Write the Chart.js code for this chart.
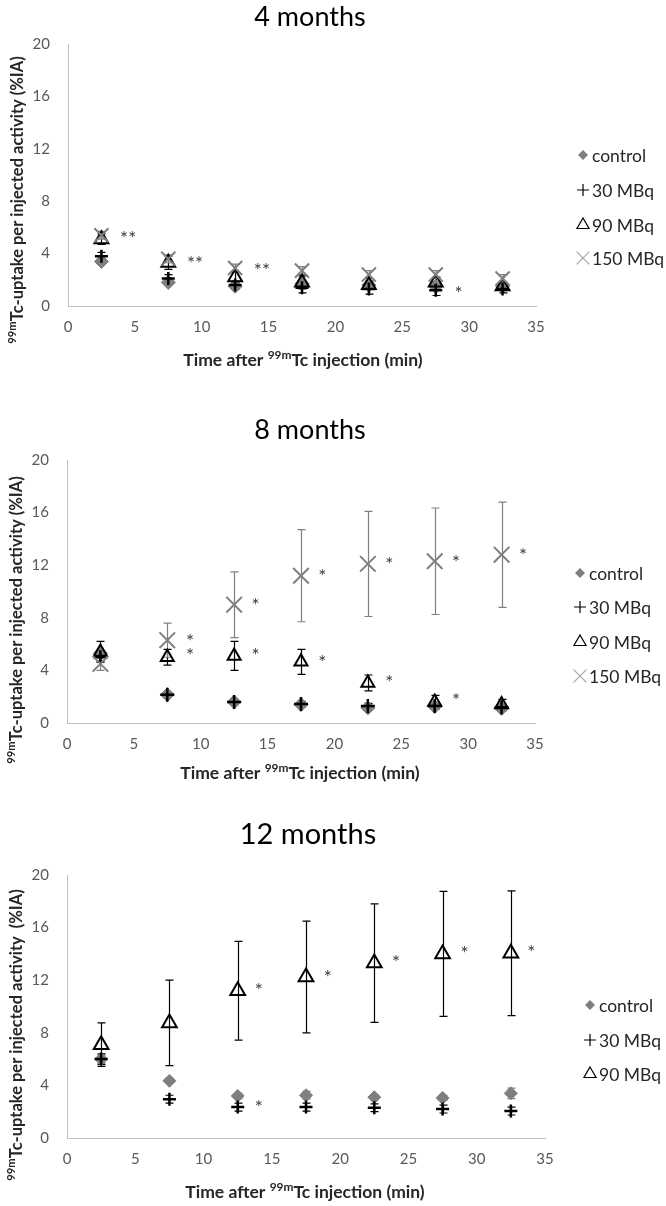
<!DOCTYPE html>
<html>
<head>
<meta charset="utf-8">
<script src="https://cdn.jsdelivr.net/npm/chart.js@4.4.1/dist/chart.umd.min.js"></script>
<style>
  body { margin: 0; background: #fff; }
  canvas { display: block; }
</style>
</head>
<body>
<canvas id="c4" width="666" height="400"></canvas>
<canvas id="c8" width="666" height="400"></canvas>
<canvas id="c12" width="666" height="406"></canvas>
<script>
// time points (min)
let times = [2.5, 7.5, 12.5, 17.5, 22.5, 27.5, 32.5]
let seriesNames = ['control', '30 MBq', '90 MBq', '150 MBq']

// 4 months
let m4_control = [3.4, 1.8, 1.5, 1.7, 1.6, 1.5, 1.5]
let m4_control_sd = [0.2, 0.2, 0.2, 0.2, 0.2, 0.2, 0.2]
let m4_30 = [3.8, 2.1, 1.6, 1.4, 1.3, 1.2, 1.3]
let m4_30_sd = [0.3, 0.3, 0.3, 0.4, 0.4, 0.4, 0.3]
let m4_90 = [5.1, 3.3, 2.2, 1.8, 1.6, 1.8, 1.5]
let m4_90_sd = [0.4, 0.5, 0.4, 0.5, 0.3, 0.4, 0.3]
let m4_150 = [5.4, 3.6, 2.9, 2.7, 2.4, 2.4, 2.1]
let m4_150_sd = [0.3, 0.3, 0.3, 0.3, 0.3, 0.3, 0.3]
let m4_star_x = [4.5, 9.5, 14.5, 29.2]
let m4_star_y = [5.4, 3.5, 3.0, 1.2]
let m4_star_t = ['**', '**', '**', '*']

// 8 months
let m8_control = [5.3, 2.15, 1.6, 1.4, 1.15, 1.25, 1.1]
let m8_control_sd = [0.2, 0.2, 0.2, 0.2, 0.2, 0.2, 0.2]
let m8_30 = [5.0, 2.15, 1.6, 1.45, 1.3, 1.3, 1.2]
let m8_30_sd = [0.3, 0.2, 0.2, 0.2, 0.2, 0.2, 0.2]
let m8_90 = [5.4, 5.0, 5.1, 4.65, 3.05, 1.6, 1.4]
let m8_90_sd = [0.8, 0.6, 1.1, 0.95, 0.6, 0.5, 0.4]
let m8_150 = [4.5, 6.3, 9.0, 11.2, 12.1, 12.3, 12.8]
let m8_150_sd = [0.5, 1.3, 2.5, 3.5, 4.0, 4.05, 4.0]
let m8_star_x = [9.2, 9.2, 14.1, 14.1, 19.1, 19.1, 24.1, 24.1, 29.1, 29.1, 34.1]
let m8_star_y = [6.5, 5.4, 9.2, 5.4, 11.4, 4.9, 12.3, 3.35, 12.5, 2.0, 13.0]

// 12 months
let m12_control = [6.0, 4.35, 3.2, 3.25, 3.1, 3.05, 3.4]
let m12_control_sd = [0.3, 0.2, 0.2, 0.3, 0.2, 0.2, 0.4]
let m12_30 = [6.0, 2.95, 2.35, 2.35, 2.3, 2.2, 2.05]
let m12_30_sd = [0.4, 0.3, 0.3, 0.3, 0.3, 0.3, 0.3]
let m12_90 = [7.1, 8.75, 11.2, 12.25, 13.3, 14.0, 14.05]
let m12_90_sd = [1.65, 3.25, 3.75, 4.25, 4.5, 4.75, 4.75]
let m12_star_x = [14.05, 14.05, 19.1, 24.1, 29.1, 34.0]
let m12_star_y = [11.5, 2.6, 12.5, 13.6, 14.3, 14.4]

const FONT = 'Lato, "Open Sans", sans-serif'
const GRAY = '#7f7f7f'

function pts(vals) {
  return vals.map((v, i) => ({ x: times[i], y: v }))
}

function drawRich(ctx, parts, cx, cy, size, rot) {
  ctx.save()
  ctx.translate(cx, cy)
  if (rot) ctx.rotate(rot)
  let w = 0
  parts.forEach(p => {
    ctx.font = 'bold ' + (p.sup ? size * 0.68 : size) + 'px ' + FONT
    p.w = ctx.measureText(p.t).width
    w += p.w
  })
  let x = -w / 2
  ctx.textBaseline = 'alphabetic'
  ctx.fillStyle = '#262626'
  parts.forEach(p => {
    ctx.font = 'bold ' + (p.sup ? size * 0.68 : size) + 'px ' + FONT
    ctx.fillText(p.t, x, p.sup ? size * 0.35 - size * 0.42 : size * 0.35)
    x += p.w
  })
  ctx.restore()
}

function marker(ctx, style, r, x, y) {
  ctx.beginPath()
  if (style == 'rectRot') {
    ctx.moveTo(x - r, y); ctx.lineTo(x, y - r); ctx.lineTo(x + r, y); ctx.lineTo(x, y + r); ctx.closePath()
    ctx.fill()
  } else if (style == 'cross') {
    ctx.moveTo(x - r, y); ctx.lineTo(x + r, y); ctx.moveTo(x, y - r); ctx.lineTo(x, y + r)
    ctx.stroke()
  } else if (style == 'triangle') {
    ctx.moveTo(x, y - r); ctx.lineTo(x + 0.866 * r, y + 0.5 * r); ctx.lineTo(x - 0.866 * r, y + 0.5 * r); ctx.closePath()
    ctx.stroke()
  } else {
    let o = 0.7071 * r
    ctx.moveTo(x - o, y - o); ctx.lineTo(x + o, y + o); ctx.moveTo(x + o, y - o); ctx.lineTo(x - o, y + o)
    ctx.stroke()
  }
}

// error bars, drawn from the dataset values through the scales
let errorBars = {
  id: 'errorBars',
  beforeDatasetsDraw(chart) {
    let ctx = chart.ctx, xs = chart.scales.x, ys = chart.scales.y
    chart.data.datasets.forEach(ds => {
      if (!ds.errors) return
      ctx.save()
      ctx.strokeStyle = ds.errColor
      ctx.lineWidth = 1.2
      ds.data.forEach((p, i) => {
        let e = ds.errors[i]
        if (!e) return
        let x = Math.round(xs.getPixelForValue(p.x)) + 0.5
        let y1 = ys.getPixelForValue(p.y + e), y2 = ys.getPixelForValue(p.y - e)
        ctx.beginPath()
        ctx.moveTo(x, y1); ctx.lineTo(x, y2)
        ctx.moveTo(x - 4, y1); ctx.lineTo(x + 4, y1)
        ctx.moveTo(x - 4, y2); ctx.lineTo(x + 4, y2)
        ctx.stroke()
      })
      ctx.restore()
    })
  }
}

// titles, axis titles, legend and significance stars
let decor = {
  id: 'decor',
  afterDraw(chart, args, o) {
    let ctx = chart.ctx, xs = chart.scales.x, ys = chart.scales.y
    ctx.save()
    ctx.fillStyle = '#000'
    ctx.font = o.titleSize + 'px ' + FONT
    ctx.textAlign = 'center'
    ctx.textBaseline = 'middle'
    ctx.fillText(o.title, o.titleX, o.titleY)
    ctx.restore()

    drawRich(ctx, [{ t: '99m', sup: true }, { t: o.yTitle }], o.yTitleX, o.yTitleY, 16.5, -Math.PI / 2)
    drawRich(ctx, [{ t: 'Time after ' }, { t: '99m', sup: true }, { t: 'Tc injection (min)' }], o.xTitleX, o.xTitleY, 17.5, 0)

    // stars
    ctx.save()
    ctx.fillStyle = '#404040'
    ctx.font = '19px ' + FONT
    ctx.textAlign = 'center'
    ctx.textBaseline = 'alphabetic'
    o.starX.forEach((sx, i) => {
      let t = o.starT ? o.starT[i] : '*'
      ctx.fillText(t, xs.getPixelForValue(sx), ys.getPixelForValue(o.starY[i]) + 10)
    })
    ctx.restore()

    // legend
    chart.data.datasets.forEach((ds, i) => {
      let y = o.legendY[i]
      ctx.save()
      ctx.fillStyle = ds.backgroundColor == 'rgba(0,0,0,0)' ? '#000' : ds.backgroundColor
      ctx.strokeStyle = ds.legendColor
      ctx.lineWidth = 1.2
      marker(ctx, ds.pointStyle, ds.legendR, o.legendX, y)
      ctx.fillStyle = '#262626'
      ctx.font = '17.5px ' + FONT
      ctx.textAlign = 'left'
      ctx.textBaseline = 'middle'
      ctx.fillText(ds.label, o.legendX + 9, y + 1)
      ctx.restore()
    })
  }
}

function sets(vals, sds, sizes) {
  let styles = [
    { pointStyle: 'rectRot', backgroundColor: GRAY, borderColor: GRAY, borderWidth: 1, errColor: GRAY, legendColor: GRAY, legendR: 5, order: 4 },
    { pointStyle: 'cross', backgroundColor: '#000', borderColor: '#000', borderWidth: 2.5, errColor: '#000', legendColor: '#000', legendR: 6, order: 3 },
    { pointStyle: 'triangle', backgroundColor: 'rgba(0,0,0,0)', borderColor: '#000', borderWidth: 2, errColor: '#000', legendColor: '#000', legendR: 7, order: 2 },
    { pointStyle: 'crossRot', backgroundColor: GRAY, borderColor: GRAY, borderWidth: 2, errColor: GRAY, legendColor: '#a6a6a6', legendR: 9, order: 1 }
  ]
  return vals.map((v, i) => Object.assign({
    label: seriesNames[i],
    data: pts(v),
    errors: sds[i],
    pointRadius: sizes[i],
    pointHoverRadius: sizes[i],
    showLine: false
  }, styles[i]))
}

function makeChart(id, area, h, datasets, deco) {
  return new Chart(document.getElementById(id), {
    type: 'scatter',
    data: { datasets: datasets },
    options: {
      responsive: false,
      animation: false,
      events: [],
      layout: { padding: { left: 0, top: area.t, right: 666 - area.r, bottom: 0 } },
      plugins: { legend: { display: false }, tooltip: { enabled: false }, decor: deco },
      scales: {
        x: {
          min: 0, max: 35,
          ticks: { stepSize: 5, color: '#595959', font: { family: FONT, size: 15 }, padding: 12, maxRotation: 0 },
          grid: { display: false, drawTicks: false },
          border: { color: '#bfbfbf', width: 1 },
          afterFit: s => { s.height = h - area.b }
        },
        y: {
          min: 0, max: 20,
          ticks: { stepSize: 4, color: '#595959', font: { family: FONT, size: 15 }, padding: 18 },
          grid: { display: false, drawTicks: false },
          border: { color: '#bfbfbf', width: 1 },
          afterFit: s => { s.width = area.l }
        }
      }
    },
    plugins: [errorBars, decor]
  })
}

makeChart('c4', { l: 68, r: 536, t: 44, b: 306 }, 400,
  sets([m4_control, m4_30, m4_90, m4_150], [m4_control_sd, m4_30_sd, m4_90_sd, m4_150_sd], [7, 6.5, 8, 10]),
  { title: '4 months', titleSize: 27, titleX: 310, titleY: 17,
    yTitle: 'Tc-uptake per injected activity (%IA)', yTitleX: 17, yTitleY: 200,
    xTitleX: 303, xTitleY: 360,
    legendX: 583, legendY: [155, 190, 225, 258],
    starX: m4_star_x, starY: m4_star_y, starT: m4_star_t })

makeChart('c8', { l: 67, r: 535, t: 60, b: 323 }, 400,
  sets([m8_control, m8_30, m8_90, m8_150], [m8_control_sd, m8_30_sd, m8_90_sd, m8_150_sd], [7, 7, 7.5, 11]),
  { title: '8 months', titleSize: 27, titleX: 310, titleY: 30,
    yTitle: 'Tc-uptake per injected activity (%IA)', yTitleX: 16, yTitleY: 220,
    xTitleX: 300, xTitleY: 373,
    legendX: 580, legendY: [173, 207, 242, 276],
    starX: m8_star_x, starY: m8_star_y })

makeChart('c12', { l: 67, r: 545, t: 75, b: 338 }, 406,
  sets([m12_control, m12_30, m12_90], [m12_control_sd, m12_30_sd, m12_90_sd], [6.5, 6.5, 8.5]),
  { title: '12 months', titleSize: 29, titleX: 308, titleY: 35,
    yTitle: 'Tc-uptake per injected activity  (%IA)', yTitleX: 16, yTitleY: 235,
    xTitleX: 305, xTitleY: 392,
    legendX: 590, legendY: [205, 240, 274],
    starX: m12_star_x, starY: m12_star_y })
</script>
</body>
</html>
